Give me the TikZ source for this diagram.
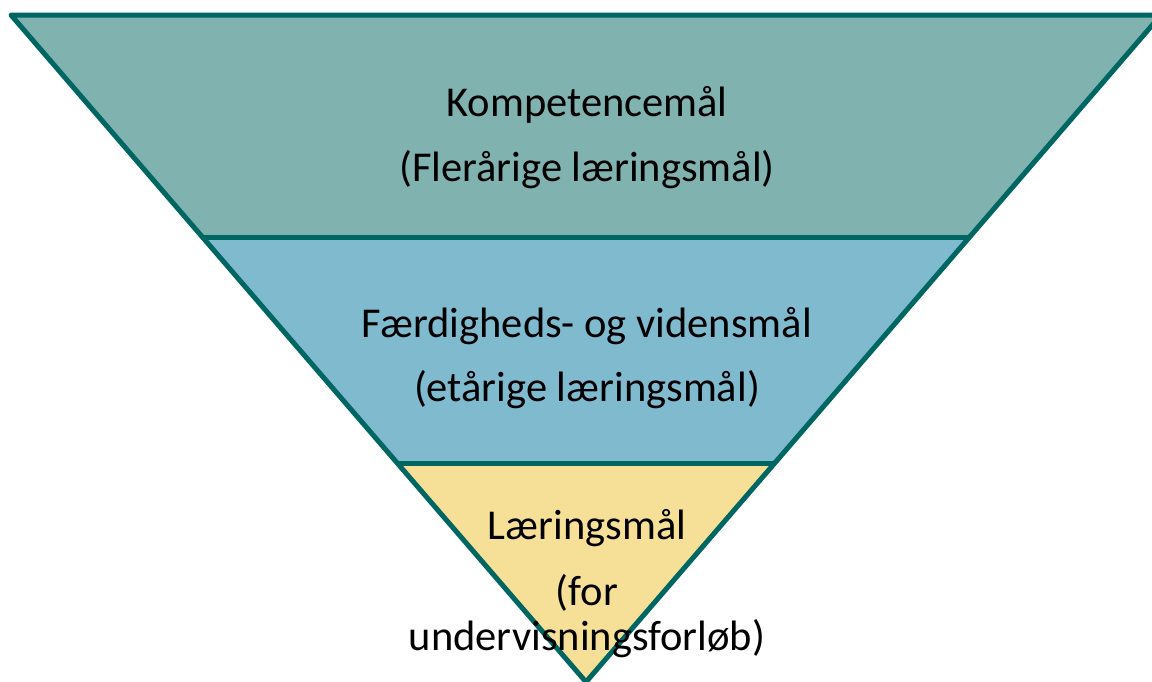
\documentclass[tikz,border=0pt]{standalone}
\usepackage{fontspec}
\setmainfont{Carlito}
\usetikzlibrary{calc}
\definecolor{strokeC}{HTML}{006662}
\definecolor{topC}{HTML}{80B2B0}
\definecolor{midC}{HTML}{7FBACE}
\definecolor{botC}{HTML}{F6E098}
\tikzset{
  layerline/.style={draw=strokeC, line width=5pt, line join=round},
  lbl/.style={anchor=base, inner sep=0pt, font=\fontsize{42.5}{50}\selectfont, text=black}
}
\begin{document}
\begin{tikzpicture}[x=1pt,y=-1pt]
\useasboundingbox (0,0) rectangle (1152,681);
\coordinate (TL) at (11,15);
\coordinate (TR) at (1161,15);
\coordinate (A) at (586,682);
\coordinate (L1) at ($(TL)!0.3343!(A)$);
\coordinate (R1) at ($(TR)!0.3343!(A)$);
\coordinate (L2) at ($(TL)!0.6717!(A)$);
\coordinate (R2) at ($(TR)!0.6717!(A)$);
\fill[topC] (TL) -- (TR) -- (R1) -- (L1) -- cycle;
\fill[midC] (L1) -- (R1) -- (R2) -- (L2) -- cycle;
\fill[botC] (L2) -- (R2) -- (A) -- cycle;
\draw[layerline] (TL) -- (TR) -- (A) -- cycle;
\draw[layerline] (L1) -- (R1);
\draw[layerline] (L2) -- (R2);
\node[lbl] (k1) at (587,116) {Kompetencemål};
\node[lbl] (k2) at (587,181) {(Flerårige læringsmål)};
\node[lbl] (f1) at (587,337) {Færdigheds- og vidensmål};
\node[lbl] (f2) at (587,401) {(etårige læringsmål)};
\node[lbl] (l1) at (587,539) {Læringsmål};
\node[lbl] (l2) at (587,605) {(for};
\node[lbl] (l3) at (587,650) {undervisningsforløb)};
\end{tikzpicture}
\end{document}
